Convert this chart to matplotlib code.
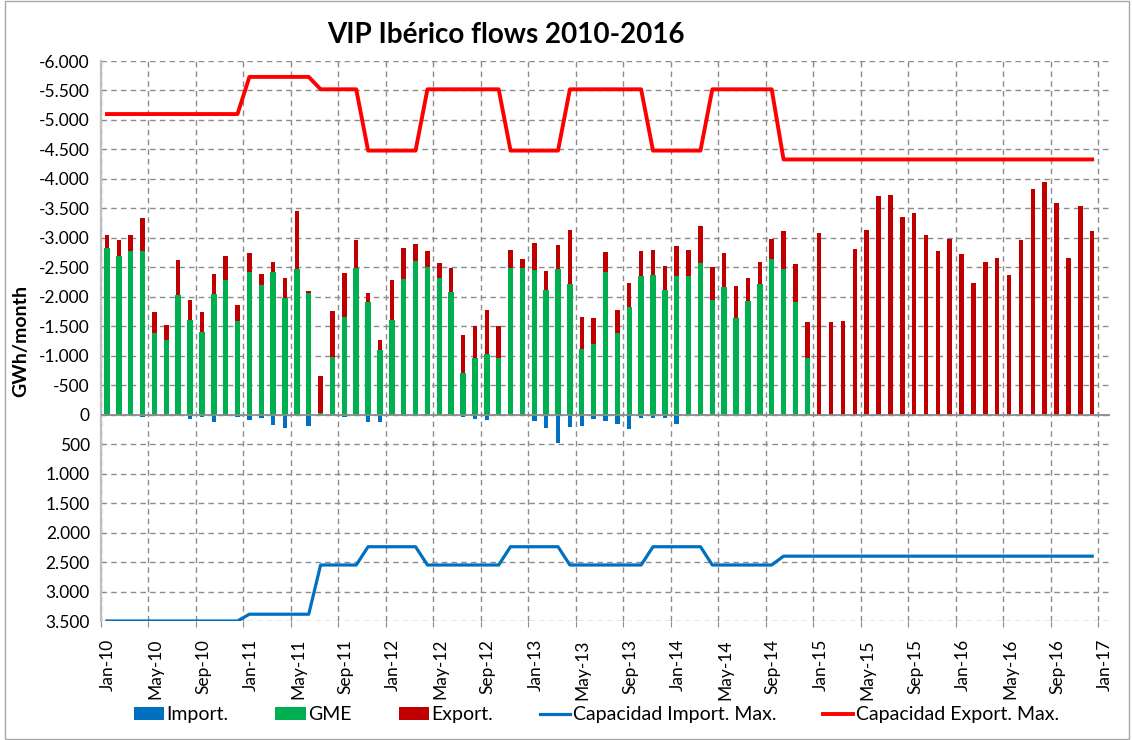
import numpy as np
import matplotlib
matplotlib.use('Agg')
import matplotlib.pyplot as plt
from matplotlib.patches import Rectangle
from matplotlib.ticker import FuncFormatter, MultipleLocator
from matplotlib.transforms import ScaledTranslation

plt.rcParams['font.family'] = ['Lato', 'DejaVu Sans']

# GWh/month, one value per month Jan-10 .. Dec-16 (magnitudes)
export_total = [
    3040, 2955, 3045, 3340, 1735, 1520, 2627, 1945, 1740, 2385, 2684, 1853,
    2740, 2379, 2582, 2322, 3458, 2102, 650, 1751, 2407, 2968, 2066, 1266,
    2288, 2836, 2904, 2780, 2573, 2490, 1360, 1500, 1777, 1511, 2802, 2644,
    2918, 2444, 2884, 3136, 1658, 1644, 2763, 1768, 2232, 2783, 2794, 2528,
    2856, 2794, 3209, 2503, 2740, 2175, 2322, 2593, 2972, 3124, 2548, 1576,
    3085, 1565, 1588, 2808, 3141, 3712, 3729, 3362, 3424, 3051, 2785, 2977,
    2729, 2237, 2582, 2655, 2362, 2955, 3836, 3949, 3599, 2661, 3548, 3124,
]
gme = [
    2833, 2697, 2782, 2782, 1379, 1262, 2023, 1610, 1407, 2040, 2283, 1596,
    2427, 2206, 2427, 1977, 2469, 2057, 31, 986, 1652, 2494, 1918, 1093,
    1598, 2308, 2607, 2503, 2316, 2079, 709, 955, 1023, 955, 2486, 2492,
    2447, 2122, 2475, 2215, 1113, 1198, 2413, 1381, 1822, 2359, 2364, 2119,
    2345, 2359, 2579, 1949, 2158, 1638, 1921, 2220, 2633, 2475, 1904, 966,
    0, 0, 0, 0, 0, 0, 0, 0, 0, 0, 0, 0,
    0, 0, 0, 0, 0, 0, 0, 0, 0, 0, 0, 0,
]
imports = [
    28, 0, 0, 45, 0, 28, 0, 68, 45, 130, 28, 40,
    90, 62, 170, 226, 0, 186, 0, 0, 34, 0, 124, 124,
    0, 17, 17, 0, 0, 0, 34, 68, 90, 0, 0, 28,
    113, 220, 480, 209, 192, 73, 102, 164, 237, 51, 51, 56,
    158, 0, 0, 0, 0, 0, 0, 0, 0, 0, 0, 0,
    0, 0, 0, 0, 0, 0, 0, 0, 0, 0, 0, 0,
    0, 0, 0, 0, 0, 0, 0, 0, 0, 0, 0, 0,
]
cap_export = [
    5100, 5100, 5100, 5100, 5100, 5100, 5100, 5100, 5100, 5100, 5100, 5100,
    5730, 5730, 5730, 5730, 5730, 5730, 5520, 5520, 5520, 5520, 4480, 4480,
    4480, 4480, 4480, 5520, 5520, 5520, 5520, 5520, 5520, 5520, 4480, 4480,
    4480, 4480, 4480, 5520, 5520, 5520, 5520, 5520, 5520, 5520, 4480, 4480,
    4480, 4480, 4480, 5520, 5520, 5520, 5520, 5520, 5520, 4330, 4330, 4330,
    4330, 4330, 4330, 4330, 4330, 4330, 4330, 4330, 4330, 4330, 4330, 4330,
    4330, 4330, 4330, 4330, 4330, 4330, 4330, 4330, 4330, 4330, 4330, 4330,
]
cap_import = [
    3500, 3500, 3500, 3500, 3500, 3500, 3500, 3500, 3500, 3500, 3500, 3500,
    3385, 3385, 3385, 3385, 3385, 3385, 2550, 2550, 2550, 2550, 2240, 2240,
    2240, 2240, 2240, 2550, 2550, 2550, 2550, 2550, 2550, 2550, 2240, 2240,
    2240, 2240, 2240, 2550, 2550, 2550, 2550, 2550, 2550, 2550, 2240, 2240,
    2240, 2240, 2240, 2550, 2550, 2550, 2550, 2550, 2550, 2400, 2400, 2400,
    2400, 2400, 2400, 2400, 2400, 2400, 2400, 2400, 2400, 2400, 2400, 2400,
    2400, 2400, 2400, 2400, 2400, 2400, 2400, 2400, 2400, 2400, 2400, 2400,
]
tick_labels = [
    'Jan-10', 'May-10', 'Sep-10', 'Jan-11', 'May-11', 'Sep-11',
    'Jan-12', 'May-12', 'Sep-12', 'Jan-13', 'May-13', 'Sep-13',
    'Jan-14', 'May-14', 'Sep-14', 'Jan-15', 'May-15', 'Sep-15',
    'Jan-16', 'May-16', 'Sep-16', 'Jan-17',
]


def _thousands(v, pos):
    return f'{v:,.0f}'.replace(',', '.')


def main():
    fig = plt.figure(figsize=(11.32, 7.4), dpi=100)
    ax = fig.add_axes([101 / 1132, 1 - 621 / 740, 1009 / 1132, 560 / 740])

    x = np.arange(len(export_total)) + 0.5
    exp = -np.asarray(export_total)
    gm = -np.asarray(gme)
    imp = np.asarray(imports)

    b_exp = ax.bar(x, exp, width=0.38, color='#C00000', zorder=3)
    b_gme = ax.bar(x, gm, width=0.46, color='#00B050', zorder=4)
    b_imp = ax.bar(x, imp, width=0.38, color='#0070C0', zorder=4)
    l_imp, = ax.plot(x, cap_import, color='#0070C0', lw=2.3, zorder=5)
    l_exp, = ax.plot(x, -np.asarray(cap_export), color='#FF0000', lw=2.8, zorder=5)

    ax.axhline(0, color='#8C8C8C', lw=1.3, zorder=4)

    ax.set_ylim(3500, -6000)
    ax.set_xlim(0, 85)
    ax.yaxis.set_major_locator(MultipleLocator(500))
    ax.yaxis.set_major_formatter(FuncFormatter(_thousands))
    ax.set_xticks(np.arange(0, 85, 4))
    ax.set_xticklabels(tick_labels, rotation=90)
    ax.tick_params(axis='y', length=0, labelsize=12.5, pad=8)
    ax.tick_params(axis='x', length=4, color='#8C8C8C', labelsize=12.5, pad=9)
    shift = ScaledTranslation(7 / 100, 0, fig.dpi_scale_trans)
    for lab in ax.get_xticklabels():
        lab.set_transform(lab.get_transform() + shift)

    ax.grid(True, color='#8C8C8C', lw=1.0, ls=(0, (4, 3)), zorder=0)
    for s in ['top', 'right', 'bottom']:
        ax.spines[s].set_visible(False)
    ax.spines['left'].set_color('#BFBFBF')
    ax.spines['left'].set_linewidth(1.6)

    ax.set_ylabel('GWh/month', fontsize=14, fontweight='bold')
    ax.yaxis.set_label_coords(-0.071, 0.5)
    fig.text(0.447, 0.953, 'VIP Ibérico flows 2010-2016', ha='center', va='center',
             fontsize=20, fontweight='bold')

    fig.legend([b_imp, b_gme, b_exp, l_imp, l_exp],
               ['Import.', 'GME', 'Export.', 'Capacidad Import. Max.',
                'Capacidad Export. Max.'],
               loc='center', bbox_to_anchor=(0.527, 0.034), ncol=5,
               frameon=False, fontsize=14, handlelength=1.55,
               handletextpad=0.15, columnspacing=2.4)

    fig.patches.append(Rectangle((5 / 1132, 1 / 740), 1124 / 1132, 738 / 740,
                                 transform=fig.transFigure, fill=False,
                                 edgecolor='#A6A6A6', lw=1))

    fig.savefig('out.png', dpi=100)


if __name__ == '__main__':
    main()
